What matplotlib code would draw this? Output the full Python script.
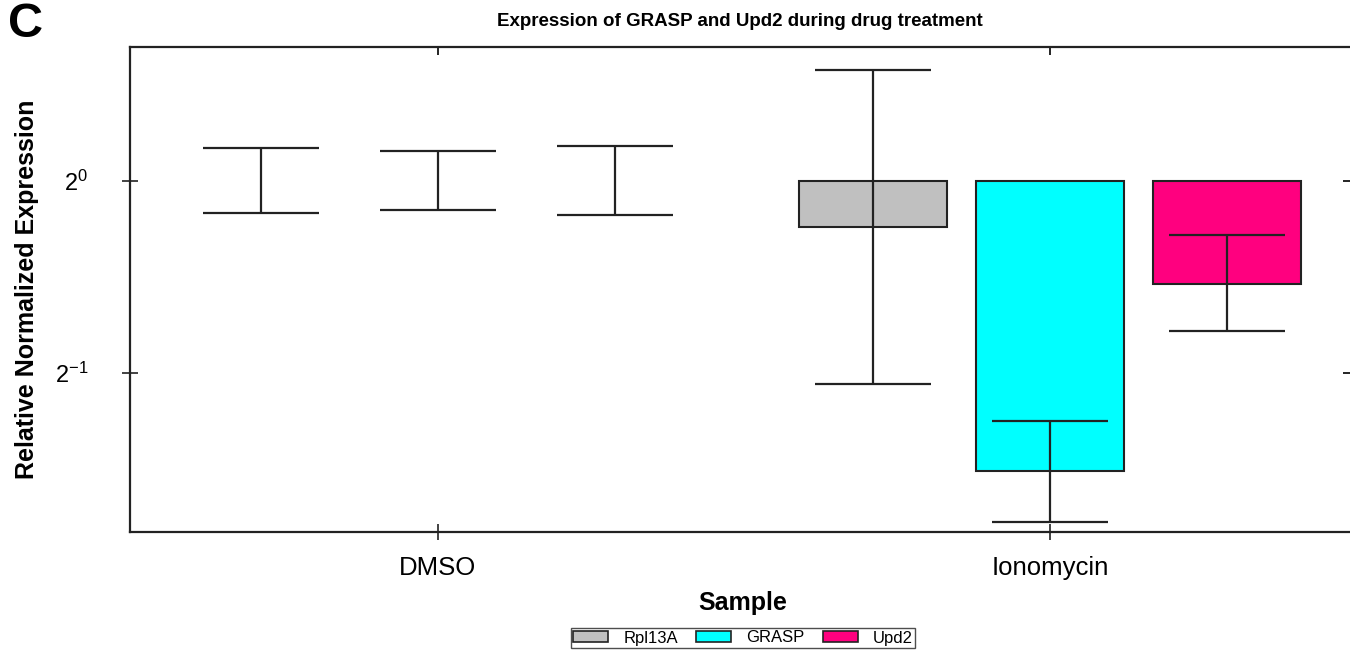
import matplotlib
matplotlib.use("Agg")
import matplotlib.pyplot as plt
import numpy as np
from matplotlib.ticker import FixedLocator, FixedFormatter, NullLocator
from matplotlib.patches import Patch

plt.rcParams['font.family'] = ['Liberation Sans', 'DejaVu Sans']
plt.rcParams['mathtext.fontset'] = 'custom'
plt.rcParams['mathtext.rm'] = 'Liberation Sans'
plt.rcParams['mathtext.it'] = 'Liberation Sans'

samples = ["DMSO", "Ionomycin"]
targets = ["Rpl13A", "GRASP", "Upd2"]
colors = ["#C0C0C0", "#00FFFF", "#FF007F"]

# relative normalized expression (mean) and error bar limits
expr = {
    "Rpl13A": [1.0, 0.847],
    "GRASP":  [1.0, 0.351],
    "Upd2":   [1.0, 0.689],
}
err_hi = {
    "Rpl13A": [1.126, 1.493],
    "GRASP":  [1.114, 0.420],
    "Upd2":   [1.135, 0.823],
}
err_lo = {
    "Rpl13A": [0.891, 0.481],
    "GRASP":  [0.901, 0.292],
    "Upd2":   [0.884, 0.582],
}
ytick_vals = [2**-1, 2**0]
ytick_labels = [r"$2^{-1}$", r"$2^{0}$"]

W, H = 1350, 652
fig = plt.figure(figsize=(W/100, H/100), dpi=100)
ax = fig.add_axes([130/W, 1-532/H, (1351-130)/W, (532-47)/H])

x = np.arange(len(samples))
offset = 0.289
width = 0.242
edge = "#222222"
for i, t in enumerate(targets):
    vals = np.array(expr[t])
    xs = x + (i-1)*offset
    lw = [0 if v == 1.0 else 1.5 for v in vals]
    ax.bar(xs, vals-1.0, bottom=1.0, width=width, color=colors[i],
           edgecolor=edge, linewidth=lw, zorder=2)
    lo = vals - np.array(err_lo[t])
    hi = np.array(err_hi[t]) - vals
    ax.errorbar(xs, vals, yerr=[lo, hi], fmt="none", ecolor=edge,
                elinewidth=1.6, capsize=42, capthick=1.6, zorder=3)

ax.set_yscale("log", base=2)
ax.set_ylim(2**-1.828, 2**0.698)
ax.set_xlim(-0.503, 1.492)
ax.yaxis.set_major_locator(FixedLocator(ytick_vals))
ax.yaxis.set_major_formatter(FixedFormatter(ytick_labels))
ax.yaxis.set_minor_locator(NullLocator())
ax.set_xticks(x)
ax.set_xticklabels(samples)

for s in ["left", "bottom", "top"]:
    ax.spines[s].set_linewidth(1.6)
    ax.spines[s].set_color(edge)
ax.spines["right"].set_visible(False)

ax.tick_params(axis="x", direction="inout", length=12, width=1.2,
               labelsize=18.5, pad=11, color=edge)
ax.tick_params(axis="y", direction="inout", length=12, width=1.2,
               labelsize=17, pad=24, color=edge)

secx = ax.secondary_xaxis("top")
secx.set_xticks(x)
secx.tick_params(direction="in", length=6, width=1.2, labeltop=False)
secx.spines["top"].set_visible(False)
secy = ax.secondary_yaxis("right")
secy.set_yscale("log", base=2)
secy.yaxis.set_major_locator(FixedLocator(ytick_vals))
secy.yaxis.set_minor_locator(NullLocator())
secy.tick_params(direction="in", length=6, width=1.2, labelright=False)
secy.spines["right"].set_visible(False)

ax.set_ylabel("Relative Normalized Expression", fontsize=18, fontweight="bold", va="center")
ax.yaxis.set_label_coords((27-130)/1221, 0.5)
ax.set_xlabel("Sample", fontsize=18, fontweight="bold", va="center")
ax.xaxis.set_label_coords(0.502, (532-603)/485)

fig.text(740/W, 1-21/H, "Expression of GRASP and Upd2 during drug treatment",
         ha="center", va="center", fontsize=13.5, fontweight="bold")
fig.text(8/W, 1-37/H, "C", ha="left", va="baseline", fontsize=35, fontweight="bold")

handles = [Patch(facecolor=c, edgecolor=edge, linewidth=1.2, label=t)
           for c, t in zip(colors, targets)]
leg = fig.legend(handles=handles, loc="center", bbox_to_anchor=(743/W, 1-638/H), ncol=3,
                 fontsize=12, frameon=True, fancybox=False, edgecolor=edge,
                 handlelength=2.1, handleheight=0.6, borderpad=0.15,
                 columnspacing=1.1, handletextpad=0.9, borderaxespad=0)
leg.get_frame().set_linewidth(1.0)

fig.savefig("out.png", dpi=100)
